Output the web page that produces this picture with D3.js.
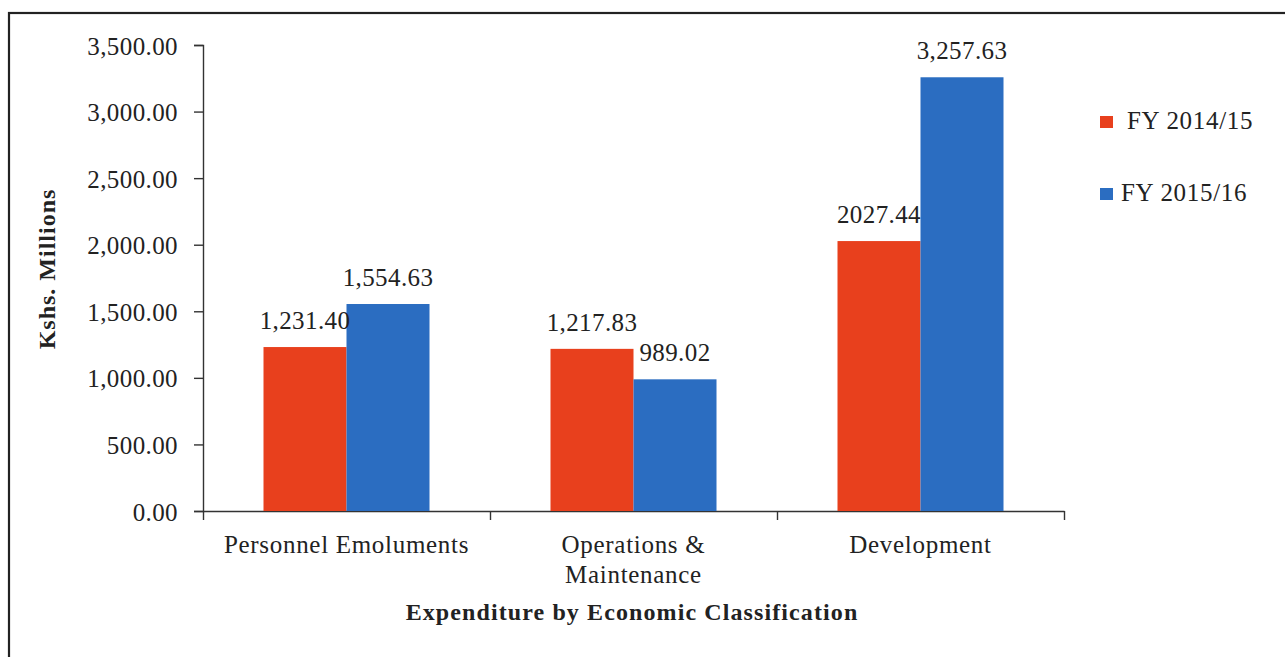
<!DOCTYPE html>
<html><head><meta charset="utf-8">
<script src="https://cdn.jsdelivr.net/npm/d3@7"></script>
<style>
html,body{margin:0;padding:0;background:#fff;}
svg{display:block;}
text{font-family:"Liberation Serif","Times New Roman",serif;fill:#222;}
</style></head>
<body>
<svg id="chart" width="1285" height="657"></svg>
<script>
const categories = ["Personnel Emoluments", "Operations & Maintenance", "Development"];
const categoryLines = [["Personnel Emoluments"], ["Operations &", "Maintenance"], ["Development"]];
const seriesNames = ["FY 2014/15", "FY 2015/16"];
const fy2014 = [1231.40, 1217.83, 2027.44];
const fy2015 = [1554.63, 989.02, 3257.63];
const labels2014 = ["1,231.40", "1,217.83", "2027.44"];
const labels2015 = ["1,554.63", "989.02", "3,257.63"];
const yTicks = [0, 500, 1000, 1500, 2000, 2500, 3000, 3500];
const colors = ["#e8401d", "#2b6dc1"];

(function () {
const svg = d3.select("#chart");
// outer frame
svg.append("rect").attr("x", 9).attr("y", 13).attr("width", 1400).attr("height", 800)
  .attr("fill", "none").attr("stroke", "#222").attr("stroke-width", 2.2);

const pLeft = 203, pRight = 1064, pTop = 45, pBottom = 511;
const x0 = d3.scaleBand().domain(categories).range([pLeft, pRight]).padding(0);
const groupW = 166;
const x1 = d3.scaleBand().domain(seriesNames).range([0, groupW]).padding(0);
const y = d3.scaleLinear().domain([0, 3500]).range([pBottom, pTop]);

const fmt = d3.format(",.2f");
const FS = "25px", LS = "0.7px";

// y axis
const yAxis = svg.append("g").attr("transform", `translate(${pLeft},0)`)
  .call(d3.axisLeft(y).tickValues(yTicks).tickFormat(fmt).tickSizeOuter(0).tickSize(9).tickPadding(16));
yAxis.selectAll("text").style("font-size", FS).style("letter-spacing", "0.4px").attr("dy", "0.36em");
yAxis.selectAll("line,path").attr("stroke", "#333").attr("stroke-width", 1.4);

// x axis
const xAxis = svg.append("g").attr("transform", `translate(0,${pBottom})`)
  .call(d3.axisBottom(d3.scaleLinear().domain([0, 3]).range([pLeft, pRight])).tickValues([0,1,2,3]).tickFormat("").tickSize(9).tickSizeOuter(0));
xAxis.selectAll("line,path").attr("stroke", "#333").attr("stroke-width", 1.4);

// category labels
categories.forEach((c, i) => {
  const cx = x0(c) + x0.bandwidth() / 2;
  const t = svg.append("text").attr("text-anchor", "middle").style("font-size", FS).style("letter-spacing", LS);
  categoryLines[i].forEach((ln, j) => {
    t.append("tspan").attr("x", cx).attr("y", 553 + j * 30).text(ln);
  });
});

// bars
const data = categories.map((c, i) => ({cat: c, vals: [fy2014[i], fy2015[i]], labs: [labels2014[i], labels2015[i]]}));
const groups = svg.selectAll("g.grp").data(data).enter().append("g")
  .attr("transform", d => `translate(${x0(d.cat) + (x0.bandwidth() - groupW) / 2},0)`);
groups.selectAll("rect").data(d => d.vals.map((v, k) => ({v, k, s: seriesNames[k]}))).enter().append("rect")
  .attr("x", d => x1(d.s)).attr("width", x1.bandwidth())
  .attr("y", d => y(d.v)).attr("height", d => y(0) - y(d.v))
  .attr("fill", d => colors[d.k]);
groups.selectAll("text.lab").data(d => d.vals.map((v, k) => ({v, k, s: seriesNames[k], lab: d.labs[k]}))).enter().append("text")
  .attr("class", "lab").attr("text-anchor", "middle").style("font-size", FS).style("letter-spacing", "0.4px")
  .attr("x", d => x1(d.s) + x1.bandwidth() / 2).attr("y", d => y(d.v) - 18).text(d => d.lab);

// axis titles
svg.append("text").attr("transform", "translate(55,269) rotate(-90)").attr("text-anchor", "middle")
  .style("font-size", "24px").style("letter-spacing", "1px").style("font-weight", "bold").text("Kshs. Millions");
svg.append("text").attr("x", 632).attr("y", 620).attr("text-anchor", "middle")
  .style("font-size", "24px").style("letter-spacing", "1.1px").style("font-weight", "bold").text("Expenditure by Economic Classification");

// legend
const lg = svg.selectAll("g.leg").data(seriesNames).enter().append("g")
  .attr("transform", (d, i) => `translate(1100,${116 + i * 72})`);
lg.append("rect").attr("width", 13).attr("height", 12).attr("fill", (d, i) => colors[i]);
lg.append("text").attr("x", (d, i) => i === 0 ? 27 : 21).attr("y", 13).style("font-size", FS).style("letter-spacing", LS).text(d => d);
})();
</script>
</body></html>
